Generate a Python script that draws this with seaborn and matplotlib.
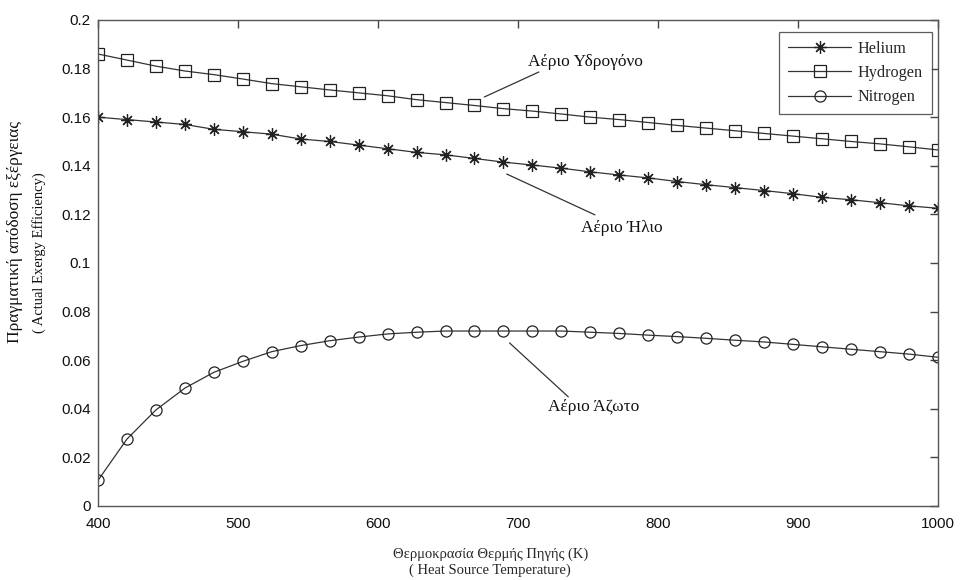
import numpy as np
import matplotlib
matplotlib.use("Agg")
import matplotlib.pyplot as plt
import seaborn as sns
import pandas as pd

# heat source temperature (K), 30 evenly spaced points
temperature = np.linspace(400, 1000, 30)

helium = [0.160, 0.159, 0.158, 0.157, 0.155, 0.154, 0.153, 0.151, 0.150, 0.1485,
          0.147, 0.1455, 0.1445, 0.143, 0.1415, 0.1403, 0.139, 0.1375, 0.1362, 0.135,
          0.1335, 0.1322, 0.131, 0.1298, 0.1285, 0.127, 0.126, 0.1248, 0.1235, 0.1225]
hydrogen = [0.186, 0.1835, 0.181, 0.179, 0.1775, 0.1757, 0.1738, 0.1725, 0.1712, 0.170,
            0.1688, 0.1672, 0.166, 0.1648, 0.1635, 0.1625, 0.1613, 0.160, 0.159, 0.1578,
            0.1566, 0.1555, 0.1544, 0.1533, 0.1522, 0.1511, 0.150, 0.149, 0.1478, 0.1465]
nitrogen = [0.0105, 0.0275, 0.0395, 0.0485, 0.055, 0.0595, 0.0635, 0.066, 0.068, 0.0695,
            0.0708, 0.0715, 0.072, 0.072, 0.072, 0.072, 0.072, 0.0715, 0.071, 0.0703,
            0.0697, 0.069, 0.0682, 0.0675, 0.0665, 0.0655, 0.0645, 0.0635, 0.0625, 0.0612]

series_names = ['Helium', 'Hydrogen', 'Nitrogen']
# (8, 2, 0) is an eight-armed asterisk, like MATLAB's '*'
series_markers = {'Helium': (8, 2, 0), 'Hydrogen': 's', 'Nitrogen': 'o'}
series_msize = {'Helium': 9, 'Hydrogen': 8, 'Nitrogen': 8}

x_ticks = [400, 500, 600, 700, 800, 900, 1000]
y_ticks = [0, 0.02, 0.04, 0.06, 0.08, 0.1, 0.12, 0.14, 0.16, 0.18, 0.2]
y_ticklabels = ['0', '0.02', '0.04', '0.06', '0.08', '0.1', '0.12', '0.14', '0.16', '0.18', '0.2']

XLABEL = 'Θερμοκρασία Θερμής Πηγής (K)\n( Heat Source Temperature)'
YLABEL_GR = 'Πραγματική απόδοση εξέργειας'
YLABEL_EN = '( Actual Exergy Efficiency)'

# annotations: (text, line start, line end, text centre) in data coords
annotations = [
    ('Αέριο Υδρογόνο', (676, 0.1683), (715, 0.1786), (748, 0.1827)),
    ('Αέριο Ήλιο', (692, 0.1366), (755, 0.1198), (774, 0.1144)),
    ('Αέριο Άζωτο', (694, 0.0671), (736, 0.0449), (754, 0.0407)),
]

SERIF = ['Liberation Serif', 'DejaVu Serif']
SANS = ['Liberation Sans', 'DejaVu Sans']


def main():
    sns.set_style("white")
    plt.rcParams['font.family'] = SANS

    df = pd.DataFrame({
        'T': np.tile(temperature, 3),
        'eff': helium + hydrogen + nitrogen,
        'gas': np.repeat(series_names, len(temperature)),
    })

    fig = plt.figure(figsize=(9.6, 5.8), dpi=100)
    ax = fig.add_axes([0.102, 0.1276, 0.875, 0.838])

    for name in series_names:
        sub = df[df['gas'] == name]
        sns.lineplot(data=sub, x='T', y='eff', ax=ax, color='#333333',
                     linewidth=0.9, marker=series_markers[name],
                     markersize=series_msize[name],
                     markerfacecolor='none', markeredgecolor='#222222',
                     markeredgewidth=0.9, label=name)

    ax.set_xlim(400, 1000)
    ax.set_ylim(0, 0.2)
    ax.set_xticks(x_ticks)
    ax.set_yticks(y_ticks)
    ax.set_yticklabels(y_ticklabels)
    ax.tick_params(direction='in', length=6, width=1, top=True, right=True,
                   labelsize=11, colors='#444444', labelcolor='#111111')
    ax.tick_params(axis='x', pad=8)
    ax.tick_params(axis='y', pad=5)
    for sp in ax.spines.values():
        sp.set_color('#555555')
        sp.set_linewidth(1.0)

    ax.set_xlabel(XLABEL, fontfamily=SERIF, fontsize=10.5, linespacing=1.3)
    ax.xaxis.set_label_coords(0.467, -0.085, transform=ax.transAxes)
    ax.xaxis.label.set_va('top')
    ax.set_ylabel('')
    fig.text(15 / 960, 1 - 232 / 580, YLABEL_GR, rotation=90, ha='center',
             va='center', fontfamily=SERIF, fontsize=12.5, color='#111111')
    fig.text(39 / 960, 1 - 253 / 580, YLABEL_EN, rotation=90, ha='center',
             va='center', fontfamily=SERIF, fontsize=10.5, color='#111111')

    for text, p0, p1, pt in annotations:
        ax.plot([p0[0], p1[0]], [p0[1], p1[1]], color='#333333', linewidth=0.9)
        ax.text(pt[0], pt[1], text, ha='center', va='center',
                fontfamily=SERIF, fontsize=12.5, color='#111111')

    leg = ax.legend(loc='upper right', bbox_to_anchor=(0.993, 0.975),
                    borderaxespad=0,
                    prop={'family': SERIF, 'size': 11.7}, frameon=True,
                    fancybox=False, edgecolor='#333333', handlelength=3.9,
                    borderpad=0.55, labelspacing=0.5, handletextpad=0.4)
    leg.get_frame().set_linewidth(0.9)

    fig.savefig('out.png', dpi=100)
    plt.close()


if __name__ == '__main__':
    main()
